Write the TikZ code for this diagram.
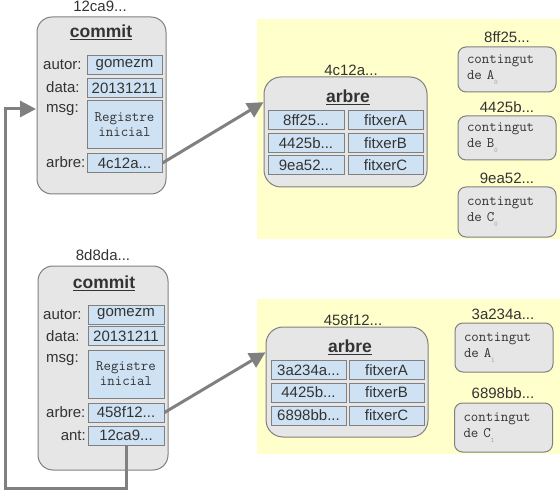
\documentclass[tikz,border=0pt]{standalone}
\usepackage{fontspec}
\setmainfont{Liberation Sans}
\usetikzlibrary{arrows.meta}
\definecolor{boxgray}{HTML}{E6E6E6}
\definecolor{edgegray}{HTML}{808080}
\definecolor{valblue}{HTML}{CFE2F3}
\definecolor{bgyellow}{HTML}{FFFFCC}
\definecolor{txt}{HTML}{333333}
\definecolor{subgray}{HTML}{A0A0A0}
\newcommand\subdig[1]{\raisebox{-5pt}{\fontsize{7}{7}\selectfont\color{subgray}#1}}
\begin{document}
\begin{tikzpicture}[x=1pt,y=-1pt,
  every node/.style={text=txt, font=\fontsize{15}{18}\selectfont},
  outerbox/.style={draw=edgegray, fill=boxgray, line width=1pt, rounded corners=#1, inner sep=0pt},
  outerbox/.default=15pt,
  valbox/.style={draw=edgegray, fill=valblue, line width=1pt, inner sep=0pt, minimum height=19pt},
  fieldlbl/.style={anchor=base west, inner sep=0pt},
  hashlbl/.style={inner sep=0pt},
  titlelbl/.style={font=\fontsize{17.5}{20}\selectfont\bfseries, inner sep=0pt},
  monotext/.style={font=\ttfamily\fontsize{14.5}{15}\selectfont},
  contbox/.style={outerbox=8pt, align=left, text width=80pt, inner xsep=9pt, font=\ttfamily\fontsize{14.5}{16}\selectfont},
  link/.style={draw=edgegray, line width=3pt, -{Triangle[length=16pt,width=16pt]}}
]
\useasboundingbox (0,0) rectangle (560,492);
% yellow areas
\fill[bgyellow] (257,19) rectangle (560,239);
\fill[bgyellow] (257,299) rectangle (560,454);

% ---- commit 1
\node[outerbox, minimum width=129pt, minimum height=177pt] (commit1) at (101.5,105.5) {};
\node[hashlbl] (h1) at (100,6) {12ca9...};
\node[titlelbl] (t1) at (101,32) {\underline{commit}};
\node[fieldlbl] (lau1) at (43,70) {autor:};
\node[fieldlbl] (lda1) at (46,93) {data:};
\node[fieldlbl] (lms1) at (46,113) {msg:};
\node[fieldlbl] (lab1) at (46,167.5) {arbre:};
\node[valbox, minimum width=75pt] (au1) at (124.5,65) {gomezm};
\node[valbox, minimum width=75pt] (da1) at (124.5,88) {20131211};
\node[valbox, minimum width=75pt, minimum height=48pt, monotext, align=center] (ms1) at (124.5,125) {Registre\\inicial};
\node[valbox, minimum width=75pt] (ab1) at (124.5,163) {4c12a...};

% ---- commit 2
\node[outerbox, minimum width=130pt, minimum height=204pt] (commit2) at (103,368) {};
\node[hashlbl] (h2) at (103,255) {8d8da...};
\node[titlelbl] (t2) at (104,283) {\underline{commit}};
\node[fieldlbl] (lau2) at (43,319.5) {autor:};
\node[fieldlbl] (lda2) at (46,341) {data:};
\node[fieldlbl] (lms2) at (46,362) {msg:};
\node[fieldlbl] (lab2) at (46,417.5) {arbre:};
\node[anchor=base east, inner sep=0pt] (lan2) at (86,440.5) {ant:};
\node[valbox, minimum width=76pt] (au2) at (126,314.5) {gomezm};
\node[valbox, minimum width=76pt] (da2) at (126,336) {20131211};
\node[valbox, minimum width=76pt, minimum height=48pt, monotext, align=center] (ms2) at (126,374) {Registre\\inicial};
\node[valbox, minimum width=76pt] (ab2) at (126,412.5) {458f12...};
\node[valbox, minimum width=76pt] (an2) at (126,435.5) {12ca9...};

% ---- tree 1
\node[outerbox=17pt, minimum width=163pt, minimum height=110pt] (tree1) at (345.5,132) {};
\node[hashlbl] (th1) at (351,70) {4c12a...};
\node[titlelbl] (tt1) at (348,97) {\underline{arbre}};
\node[valbox, minimum width=76pt] (r1a) at (306,120.5) {8ff25...};
\node[valbox, minimum width=75pt] (r1b) at (385.5,120.5) {fitxerA};
\node[valbox, minimum width=76pt] (r2a) at (306,143.5) {4425b...};
\node[valbox, minimum width=75pt] (r2b) at (385.5,143.5) {fitxerB};
\node[valbox, minimum width=76pt] (r3a) at (306,165.5) {9ea52...};
\node[valbox, minimum width=75pt] (r3b) at (385.5,165.5) {fitxerC};

% ---- tree 2
\node[outerbox=17pt, minimum width=162pt, minimum height=110pt] (tree2) at (347,382) {};
\node[hashlbl] (th2) at (353,320) {458f12...};
\node[titlelbl] (tt2) at (350,347) {\underline{arbre}};
\node[valbox, minimum width=75pt] (s1a) at (308.5,370) {3a234a...};
\node[valbox, minimum width=75pt] (s1b) at (386.5,370) {fitxerA};
\node[valbox, minimum width=75pt] (s2a) at (308.5,392.5) {4425b...};
\node[valbox, minimum width=75pt] (s2b) at (386.5,392.5) {fitxerB};
\node[valbox, minimum width=75pt] (s3a) at (308.5,415.5) {6898bb...};
\node[valbox, minimum width=75pt] (s3b) at (386.5,415.5) {fitxerC};

% ---- contents 1
\node[hashlbl] (ch1) at (507,37) {8ff25...};
\node[contbox, minimum height=45pt] (cA0) at (507,69.5) {contingut\\de A\subdig{0}};
\node[hashlbl] (ch2) at (507,107) {4425b...};
\node[contbox, minimum height=44pt] (cB0) at (507,138) {contingut\\de B\subdig{0}};
\node[hashlbl] (ch3) at (507,178) {9ea52...};
\node[contbox, minimum height=50pt] (cC0) at (507,212) {contingut\\de C\subdig{0}};

% ---- contents 2
\node[hashlbl] (dh1) at (503,314) {3a234a...};
\node[contbox, minimum height=49pt] (cA1) at (504,347.5) {contingut\\de A\subdig{1}};
\node[hashlbl] (dh2) at (503,393) {6898bb...};
\node[contbox, minimum height=49pt] (cC1) at (503.5,427.5) {contingut\\de C\subdig{1}};

% ---- connectors
\coordinate (loopcorner) at (5,488);
\coordinate (loopin) at (36,109);
\draw[link] (ab1.east) -- (tree1.160);
\draw[link] (ab2.east) -- (tree2.160);
\draw[link] (an2.south) |- (loopcorner) |- (loopin);
\end{tikzpicture}
\end{document}
